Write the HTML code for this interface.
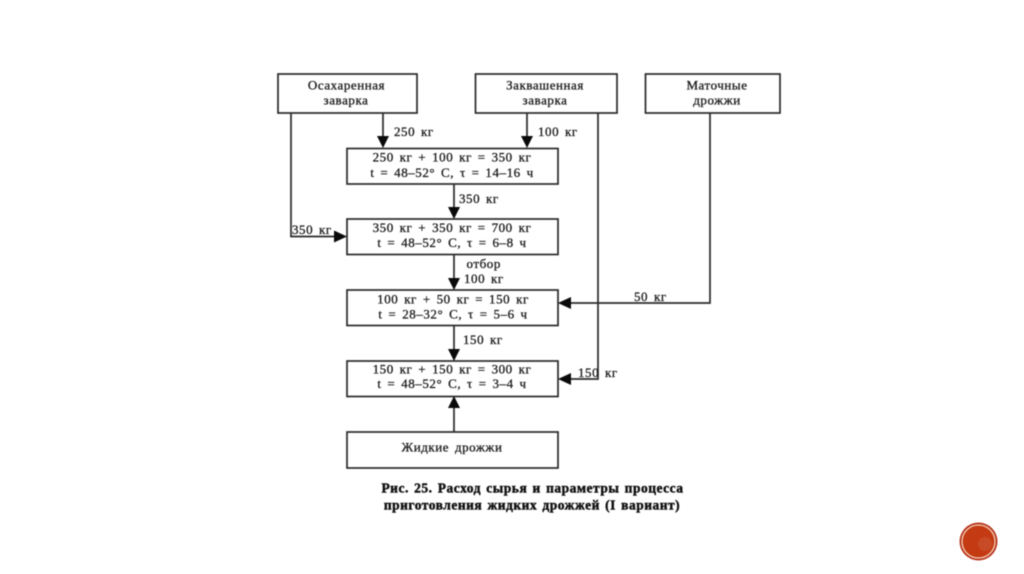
<!DOCTYPE html>
<html lang="ru">
<head>
<meta charset="utf-8">
<style>
html,body{margin:0;padding:0;background:#fff;width:1024px;height:574px;overflow:hidden}
svg{display:block;filter:blur(.45px)}
text{font-family:"Liberation Serif","DejaVu Serif",serif;font-size:13px;letter-spacing:.55px;word-spacing:2.1px;fill:#1a1a1a;stroke:#1a1a1a;stroke-width:.3px;text-anchor:middle}
.l{text-anchor:start}
.c{font-size:13.5px;font-weight:bold;letter-spacing:.5px;word-spacing:1.4px;stroke-width:.45px;fill:#111;stroke:#111}
rect.b{fill:#fff;stroke:#2a2a2a;stroke-width:1.7}
path.w{fill:none;stroke:#2a2a2a;stroke-width:1.7}
path.a{fill:#0a0a0a;stroke:none}
</style>
</head>
<body>
<svg width="1024" height="574" viewBox="0 0 1024 574" xmlns="http://www.w3.org/2000/svg">
<rect class="b" x="278" y="74" width="139" height="39"/>
<rect class="b" x="475.500" y="74" width="141.500" height="39"/>
<rect class="b" x="645.500" y="74" width="134.500" height="39"/>
<rect class="b" x="347" y="148.500" width="211" height="35.500"/>
<rect class="b" x="347" y="219" width="211" height="35.500"/>
<rect class="b" x="347" y="290" width="211" height="35.500"/>
<rect class="b" x="347" y="361" width="211" height="35.500"/>
<rect class="b" x="347" y="432" width="211" height="36"/>

<path class="w" d="M383 113V138M527 113V138M454 184V208M454 255V278M454 326V350M454 432V408M291 113V236.500H336M710 113V303H570M598 113V379H570"/>
<path class="a" d="M377 136H389L383 148ZM521 136H533L527 148ZM448 207H460L454 219ZM448 278H460L454 290ZM448 349H460L454 361ZM448 408H460L454 396ZM334 230.500V242.500L347 236.500ZM571 297V309L558 303ZM571 373V385L558 379Z"/>

<text x="346.500" y="89.500">Осахаренная</text>
<text x="346" y="104.500">заварка</text>
<text x="545" y="89.500">Заквашенная</text>
<text x="545" y="104.500">заварка</text>
<text x="717" y="89.500">Маточные</text>
<text x="717" y="104.500">дрожжи</text>

<text class="l" x="394" y="136">250 кг</text>
<text class="l" x="538" y="136">100 кг</text>
<text class="l" x="459" y="203">350 кг</text>
<text class="l" x="292" y="234">350 кг</text>
<text class="l" x="466.500" y="268">отбор</text>
<text class="l" x="464" y="283">100 кг</text>
<text class="l" x="463" y="344">150 кг</text>
<text class="l" x="634" y="301">50 кг</text>
<text class="l" x="578" y="377">150 кг</text>

<text x="452" y="161.500">250 кг + 100 кг = 350 кг</text>
<text x="452" y="177">t = 48–52° С, τ = 14–16 ч</text>
<text x="452" y="232">350 кг + 350 кг = 700 кг</text>
<text x="452" y="247">t = 48–52° С, τ = 6–8 ч</text>
<text x="453" y="303.500">100 кг + 50 кг = 150 кг</text>
<text x="453" y="318.500">t = 28–32° С, τ = 5–6 ч</text>
<text x="452" y="373.500">150 кг + 150 кг = 300 кг</text>
<text x="452" y="388">t = 48–52° С, τ = 3–4 ч</text>
<text x="452" y="451.500">Жидкие дрожжи</text>

<text class="c" x="532.500" y="492.500">Рис. 25. Расход сырья и параметры процесса</text>
<text class="c" x="532" y="509.500">приготовления жидких дрожжей (I вариант)</text>

<circle cx="978.500" cy="541.500" r="19" fill="#b8331c"/>
<circle cx="978.500" cy="541.500" r="16.500" fill="#c43a12" stroke="#f3d3b8" stroke-width="1.300"/>
<circle cx="985" cy="544" r="7" fill="#cc5a38" opacity=".55"/>
</svg>
</body>
</html>
